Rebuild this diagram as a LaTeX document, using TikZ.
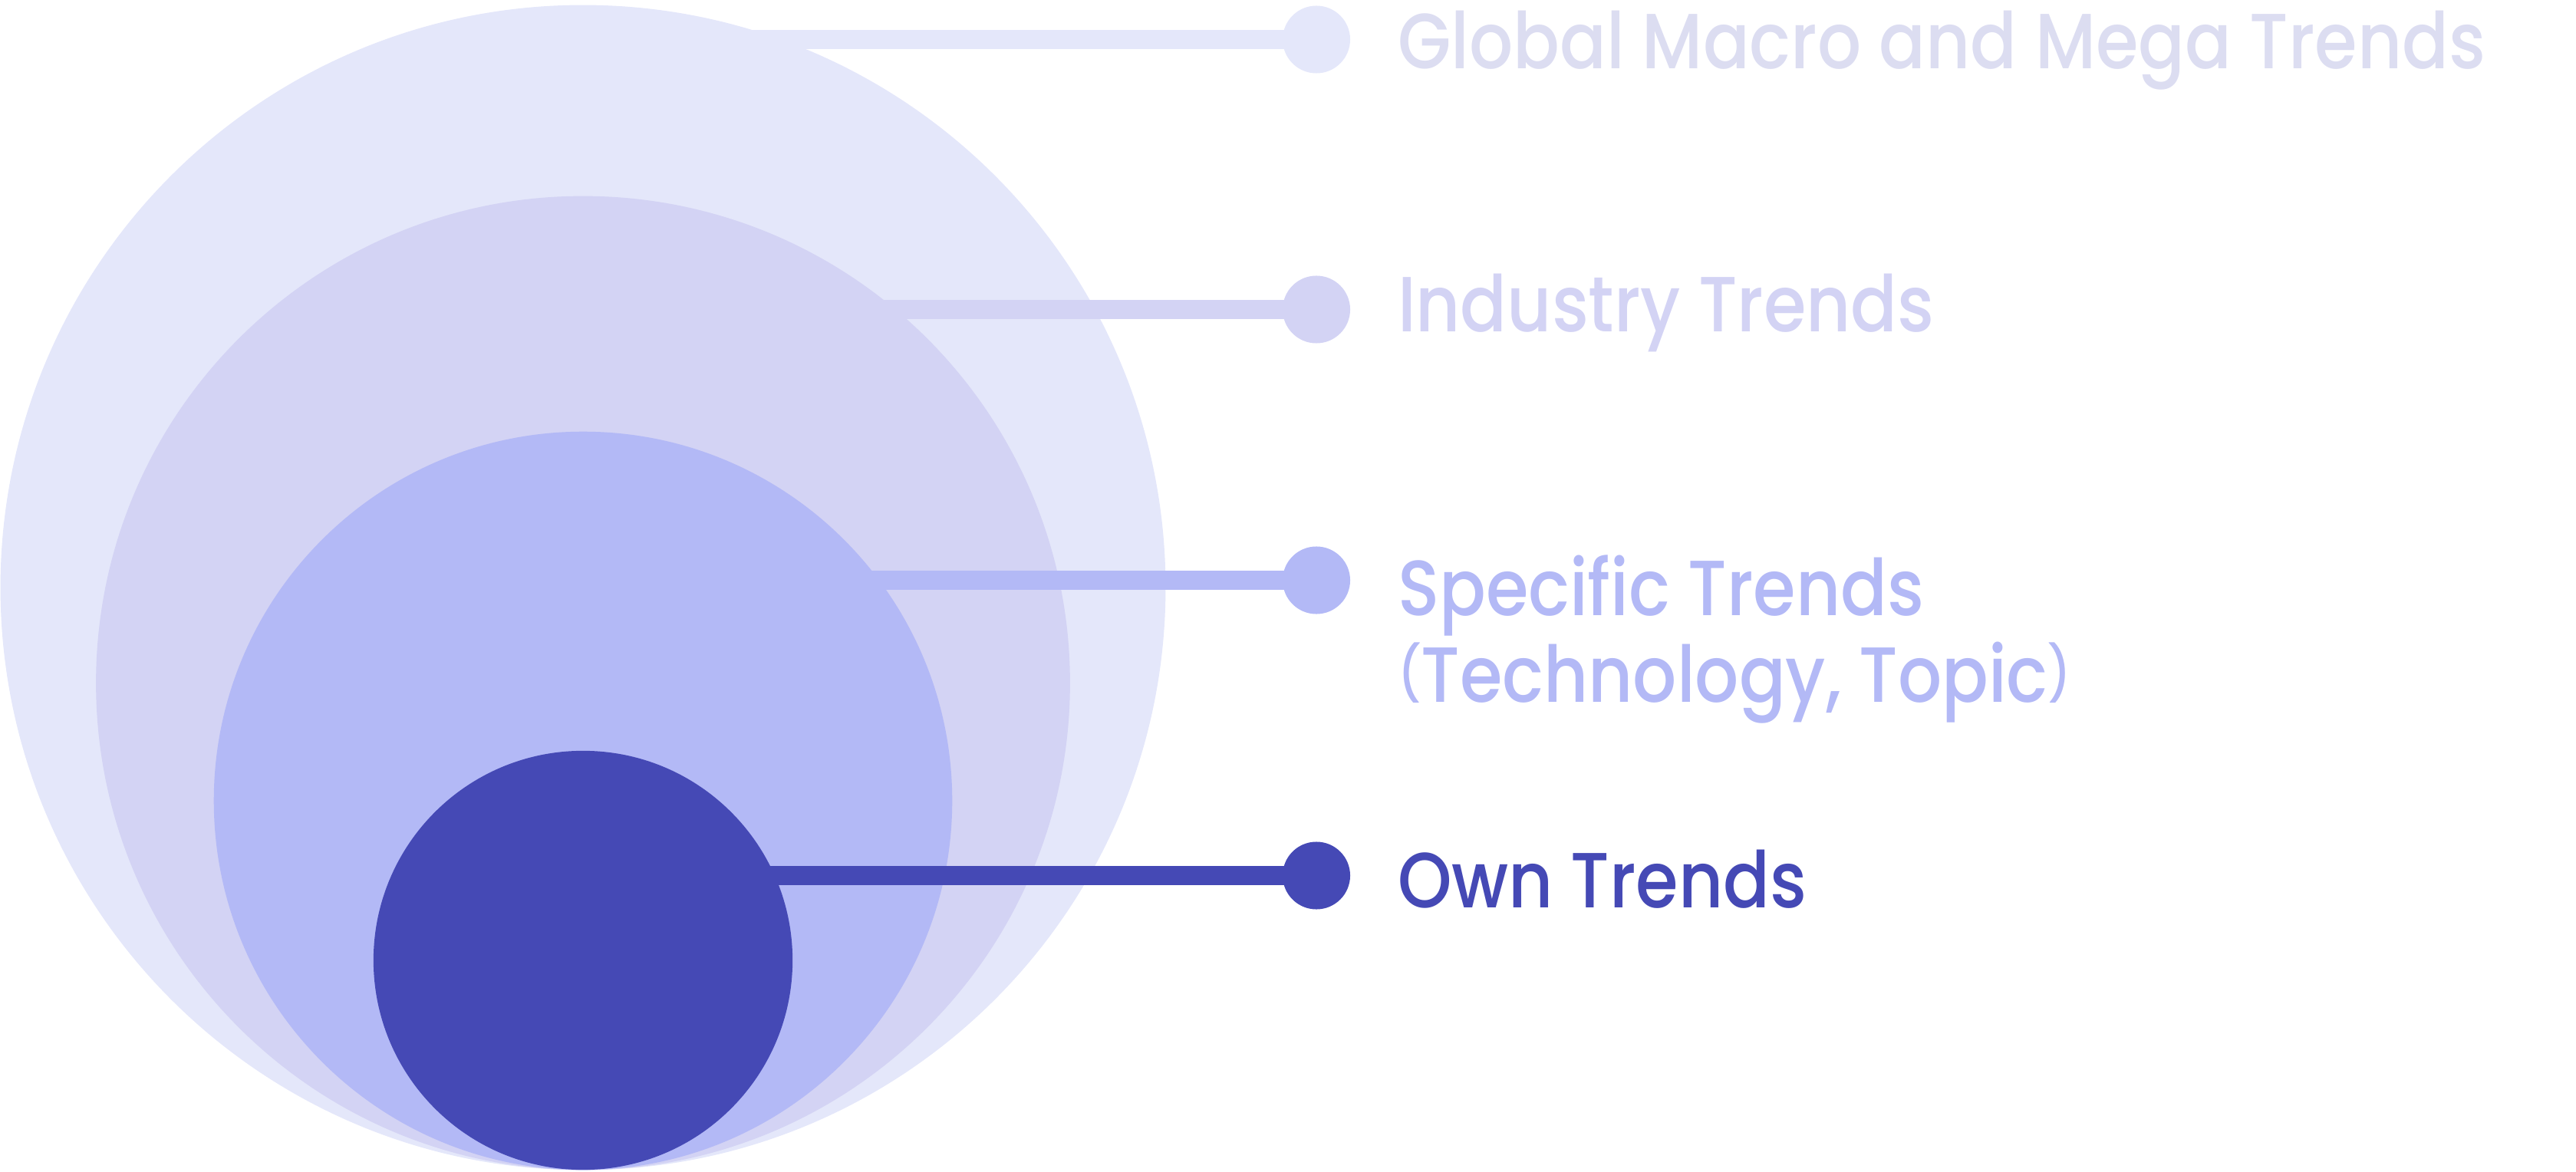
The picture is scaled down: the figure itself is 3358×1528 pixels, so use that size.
\documentclass[tikz,border=0pt]{standalone}
\usepackage{fontspec}
\setmainfont{Poppins Medium}[FakeStretch=0.88]
\definecolor{c1}{HTML}{E4E7FA}
\definecolor{c2}{HTML}{D3D3F4}
\definecolor{c3}{HTML}{B3B9F6}
\definecolor{c4}{HTML}{4549B5}
\definecolor{t1}{HTML}{DCDDF1}
\newcommand{\smallparen}[1]{\raisebox{0.11cm}{\fontsize{20pt}{20pt}\selectfont #1}}
\begin{document}
\begin{tikzpicture}[x=0.01cm,y=-0.01cm,
  ring/.style={circle,inner sep=0pt,outer sep=0pt},
  dot/.style={circle,inner sep=0pt,outer sep=0pt,minimum size=0.88cm},
  bar/.style={line width=0.25cm,line cap=butt},
  lbl/.style={inner sep=0pt,outer sep=0pt,anchor=base west,font=\fontsize{29pt}{34pt}\selectfont}]
\useasboundingbox (0,0) rectangle (3358,1528);
\coordinate (p1) at (1716,51.5);
\coordinate (p2) at (1716,403.5);
\coordinate (p3) at (1716,756.5);
\coordinate (p4) at (1716,1141.5);
% level 1
\node[ring,fill=c1,minimum size=15.18cm] (r1) at (760,766) {};
\draw[bar,c1] (r1.center |- p1) -- (p1);
\node[dot,fill=c1] (d1) at (p1) {};
% level 2
\node[ring,fill=c2,minimum size=12.69cm] (r2) at (760,890.5) {};
\draw[bar,c2] (r2.center |- p2) -- (p2);
\node[dot,fill=c2] (d2) at (p2) {};
% level 3
\node[ring,fill=c3,minimum size=9.62cm] (r3) at (760,1044) {};
\draw[bar,c3] (r3.center |- p3) -- (p3);
\node[dot,fill=c3] (d3) at (p3) {};
% level 4
\node[ring,fill=c4,minimum size=5.46cm] (r4) at (760,1252) {};
\draw[bar,c4] (r4.center |- p4) -- (p4);
\node[dot,fill=c4] (d4) at (p4) {};
% labels
\node[lbl,text=t1] (l1) at (1822,90) {Global Macro and Mega Trends};
\node[lbl,text=c2] (l2) at (1822,433) {Industry Trends};
\node[lbl,text=c3] (l3a) at (1822,802) {Specific Trends};
\node[lbl,text=c3] (l3b) at (1822,915) {\smallparen{(}Technology, Topic\smallparen{)}};
\node[lbl,text=c4] (l4) at (1822,1183) {Own Trends};
\end{tikzpicture}
\end{document}
